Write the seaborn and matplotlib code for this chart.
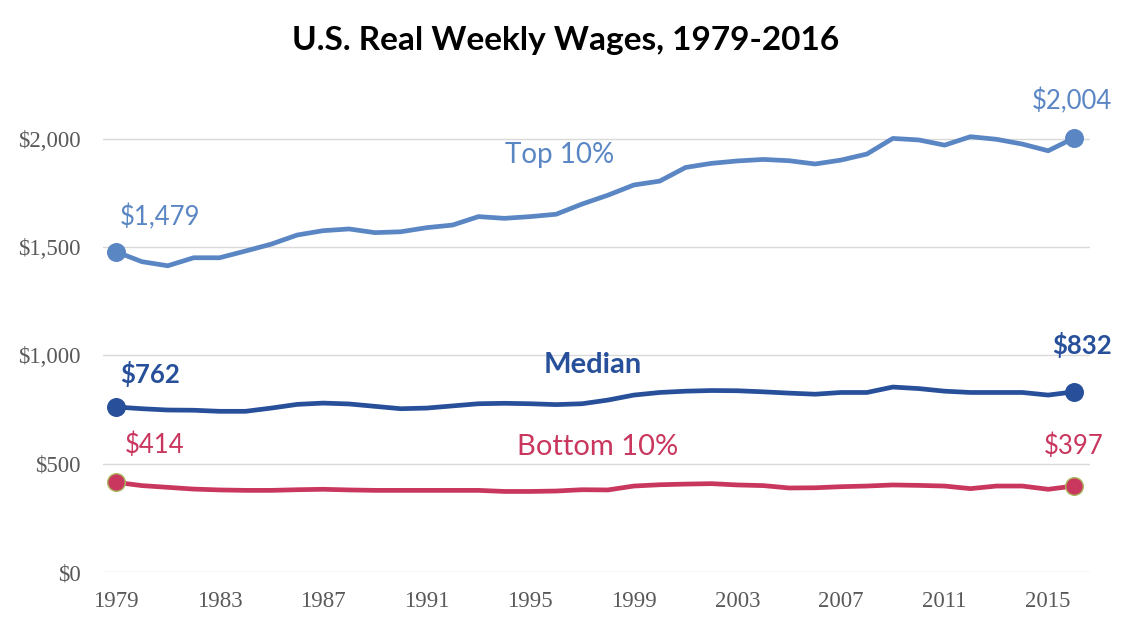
import numpy as np
import pandas as pd
import seaborn as sns
import matplotlib.pyplot as plt
from matplotlib.ticker import FuncFormatter

# Real weekly wages
years = list(range(1979, 2017))
top10 = [1479, 1433, 1414, 1451, 1451, 1482, 1514, 1556, 1576, 1584,
         1567, 1571, 1590, 1602, 1641, 1633, 1641, 1652, 1699, 1740,
         1787, 1805, 1868, 1887, 1898, 1905, 1899, 1884, 1902, 1930,
         2002, 1995, 1971, 2010, 1998, 1976, 1945, 2004]
median = [762, 754, 748, 747, 742, 742, 757, 774, 780, 776,
          765, 754, 757, 767, 777, 779, 777, 773, 777, 794,
          817, 829, 835, 838, 837, 832, 826, 821, 829, 829,
          854, 847, 835, 829, 829, 829, 817, 832]
bottom10 = [414, 399, 391, 383, 379, 377, 377, 380, 382, 379,
            377, 377, 377, 377, 377, 372, 372, 374, 380, 379,
            397, 403, 406, 408, 402, 399, 388, 389, 394, 397,
            402, 400, 397, 385, 397, 397, 382, 397]
series_names = ["Top 10%", "Median", "Bottom 10%"]
xticks = list(range(1979, 2016, 4))
yticks = [0, 500, 1000, 1500, 2000]

colors = {"Top 10%": "#5B86C4", "Median": "#28509A", "Bottom 10%": "#C9375E"}

df = pd.DataFrame({
    "year": years * 3,
    "wage": top10 + median + bottom10,
    "series": sum([[n] * len(years) for n in series_names], []),
})
ends = df[df["year"].isin([years[0], years[-1]])]

sns.set_style("white")
plt.rcParams["font.family"] = ["Lato", "DejaVu Sans"]

fig = plt.figure(figsize=(11.32, 6.18), dpi=100)
ax = fig.add_axes([0.0910, 0.0744, 0.872, 0.771])

sns.lineplot(data=df, x="year", y="wage", hue="series", palette=colors,
             linewidth=3.4, legend=False, ax=ax, zorder=3)
for name in series_names:
    pts = ends[ends["series"] == name]
    edge = "#A9B45A" if name == "Bottom 10%" else colors[name]
    sns.scatterplot(data=pts, x="year", y="wage", color=colors[name], s=160,
                    edgecolor=edge, linewidth=1, ax=ax, zorder=4, legend=False)

ax.set_xlim(1978.50, 2016.62)
ax.set_ylim(0, 2200)
ax.set_xticks(xticks)
ax.set_yticks(yticks)
ax.yaxis.set_major_formatter(FuncFormatter(lambda v, p: "${:,.0f}".format(v)))
ax.grid(axis="y", color="#D9D9D9", linewidth=1)
ax.grid(axis="x", visible=False)
for s in ax.spines.values():
    s.set_visible(False)
ax.tick_params(axis="both", length=0, labelsize=16.5, colors="#595959")
ax.tick_params(axis="x", pad=14)
ax.tick_params(axis="y", pad=16)
for lab in ax.get_xticklabels() + ax.get_yticklabels():
    lab.set_family(["Liberation Serif", "DejaVu Serif"])
ax.set_xlabel("")
ax.set_ylabel("")

fig.suptitle("U.S. Real Weekly Wages, 1979-2016", x=0.5, y=0.958,
             fontsize=24, fontweight="bold", color="black")

# series names
ax.text(1996.15, 1925, "Top 10%", color=colors["Top 10%"], fontsize=20,
        ha="center", va="center")
ax.text(1997.4, 956, "Median", color=colors["Median"], fontsize=21,
        fontweight="bold", ha="center", va="center")
ax.text(1997.6, 577, "Bottom 10%", color=colors["Bottom 10%"], fontsize=21,
        ha="center", va="center")

# endpoint value labels
offsets = {
    ("Top 10%", 0): (31.7, 24.5), ("Top 10%", 1): (-1.5, 26.6),
    ("Median", 0): (24.5, 23.8), ("Median", 1): (5.8, 33.8),
    ("Bottom 10%", 0): (28, 26.6), ("Bottom 10%", 1): (0, 28.8),
}
vals = {"Top 10%": top10, "Median": median, "Bottom 10%": bottom10}
for name in series_names:
    for i, idx in enumerate([0, -1]):
        ax.annotate("${:,}".format(vals[name][idx]), (years[idx], vals[name][idx]),
                    xytext=offsets[(name, i)], textcoords="offset points",
                    ha="center", va="center", fontsize=18.5, color=colors[name],
                    fontweight="bold" if name == "Median" else "normal")

fig.savefig("out.png", dpi=100)
